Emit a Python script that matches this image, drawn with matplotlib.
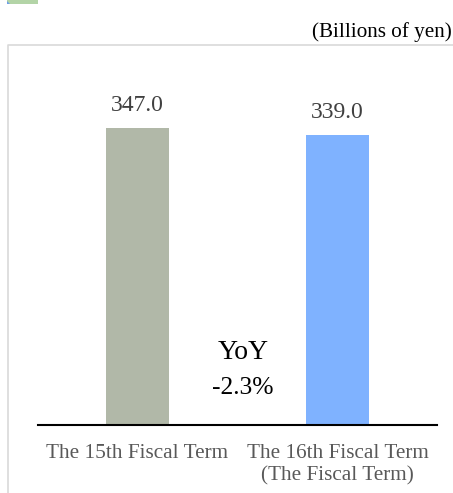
import matplotlib
matplotlib.use('Agg')
import matplotlib.pyplot as plt
from matplotlib.lines import Line2D
from matplotlib.patches import Rectangle, Polygon

plt.rcParams['font.family'] = ['Liberation Serif', 'DejaVu Serif']

# values in billions of yen
terms = ['The 15th Fiscal Term', 'The 16th Fiscal Term\n(The Fiscal Term)']
values = [347.0, 339.0]
bar_colors = ['#b1b8a8', '#7fb2ff']
unit_note = '(Billions of yen)'

W, H = 453, 493
DPI = 100
fig = plt.figure(figsize=(W / DPI, H / DPI), dpi=DPI)

def px(x, y):
    # pixel position (from top-left) -> figure fraction
    return x / W, 1 - y / H

# light frame: left and top edges of the chart panel
fx, fy = px(8, 45)
fig.lines.append(Line2D([fx, fx, 1.05], [-0.05, fy, fy], transform=fig.transFigure,
                        color='#d9d9d9', linewidth=1.2))

# little legend swatch at the very top
sx0, sy0 = px(7, 4)
sx1, sy1 = px(38, -1)
fig.patches.append(Rectangle((sx0, sy0), sx1 - sx0, sy1 - sy0, transform=fig.transFigure,
                             facecolor='#b3d4a7', edgecolor='none'))
tx, ty = px(10, 4)
fig.patches.append(Polygon([(sx0, sy0), (tx, sy0), (sx0, px(0, 1)[1])], closed=True,
                           transform=fig.transFigure, facecolor='#6f9fe8', edgecolor='none'))

fig.text(452 / W, 1 - 37 / H, unit_note, ha='right', va='baseline', fontsize=15.2, color='black')

ymax = 420
base_y = 425
ax_h = ymax * 297 / 347
left, bottom = px(37.5, base_y)
ax = fig.add_axes([left, bottom, 400 / W, ax_h / H])

xs = range(len(values))
ax.bar(xs, values, width=0.315, color=bar_colors, zorder=2)
for x, v in zip(xs, values):
    ax.annotate(f'{v:.1f}', (x, v), xytext=(0, 12.2), textcoords='offset points',
                ha='center', va='baseline', fontsize=17, color='#404040')

yoy = (values[1] - values[0]) / values[0] * 100
ax.text(0.5275, 66 * 347 / 297, 'YoY', ha='center', va='baseline', fontsize=20, color='black')
ax.text(0.5275, 31 * 347 / 297, f'{yoy:.1f}%', ha='center', va='baseline', fontsize=18.4,
        color='black')

ax.set_xlim(-0.5, 1.5)
ax.set_ylim(0, ymax)
ax.set_xticks(list(xs))
ax.set_xticklabels(terms, fontsize=15.3, color='#595959', linespacing=1.2)
ax.tick_params(axis='x', length=0, pad=14)
ax.set_yticks([])
for side in ('left', 'right', 'top'):
    ax.spines[side].set_visible(False)
ax.spines['bottom'].set_color('black')
ax.spines['bottom'].set_linewidth(1.5)
ax.patch.set_alpha(0)

fig.savefig('out.png', dpi=DPI)
